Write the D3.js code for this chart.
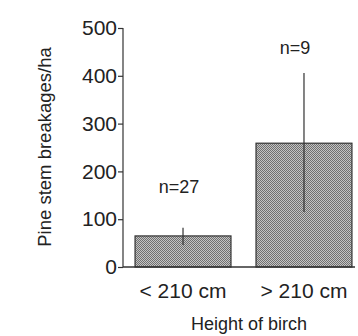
<!DOCTYPE html>
<html><head><meta charset="utf-8">
<script src="https://cdn.jsdelivr.net/npm/d3@7"></script>
<style>body{margin:0;background:#fff}svg{display:block}text{font-family:"Liberation Sans",Arial,sans-serif;fill:#222}</style>
</head><body><svg id="c" width="358" height="336"></svg>
<script>
const categories = ["< 210 cm", "> 210 cm"];
const means = [65, 259];
const errLow = [46, 115];
const errHigh = [82, 406];
const nLabels = ["n=27", "n=9"];
const nLabelAt = [155, 445];
const yTicks = [0, 100, 200, 300, 400, 500];

const svg = d3.select("#c");
const m = {left: 123, right: 355, top: 28, bottom: 267};
const y = d3.scaleLinear().domain([0, 500]).range([m.bottom, m.top]);
const x = d3.scaleBand().domain(categories).range([129, 358]).paddingInner(0.207).paddingOuter(0.05);

const defs = svg.append("defs");
const pat = defs.append("pattern").attr("id","hatch").attr("width",2).attr("height",2).attr("patternUnits","userSpaceOnUse");
pat.append("rect").attr("width",2).attr("height",2).attr("fill","#c4c4c4");
pat.append("rect").attr("width",1).attr("height",1).attr("fill","#707070");
pat.append("rect").attr("x",1).attr("y",1).attr("width",1).attr("height",1).attr("fill","#707070");

// bars
svg.selectAll("rect.bar").data(categories).enter().append("rect").attr("class","bar")
  .attr("x", d => x(d)).attr("width", x.bandwidth())
  .attr("y", (d,i) => y(means[i])).attr("height", (d,i) => y(0) - y(means[i]))
  .attr("fill","url(#hatch)").attr("stroke","#333").attr("stroke-width",1.2);

// error bars
svg.selectAll("line.err").data(categories).enter().append("line")
  .attr("x1", d => x(d) + x.bandwidth()/2).attr("x2", d => x(d) + x.bandwidth()/2)
  .attr("y1", (d,i) => y(errLow[i])).attr("y2", (d,i) => y(errHigh[i]))
  .attr("stroke","#333").attr("stroke-width",1.2);

// n labels
svg.selectAll("text.n").data(categories).enter().append("text")
  .attr("x", (d,i) => x(d) + x.bandwidth()/2 - (i === 0 ? 4 : 9)).attr("y", (d,i) => y(nLabelAt[i]))
  .attr("text-anchor","middle").attr("font-size",18).text((d,i) => nLabels[i]);

// y axis
const yAxis = d3.axisLeft(y).tickValues(yTicks).tickSize(5).tickPadding(1);
const gy = svg.append("g").attr("transform",`translate(${m.left},0)`).call(yAxis);
gy.select(".domain").attr("stroke","#333").attr("stroke-width",1.2).attr("d",`M0,${m.top}V${m.bottom}`);
gy.selectAll(".tick line").attr("stroke","#333").attr("stroke-width",1.2);
gy.selectAll(".tick text").attr("font-size",21).attr("fill","#222").attr("font-family","Liberation Sans, Arial, sans-serif");

// x baseline
svg.append("line").attr("x1",m.left).attr("x2",m.right).attr("y1",y(0)).attr("y2",y(0)).attr("stroke","#333").attr("stroke-width",1.4);

// x labels
svg.selectAll("text.xl").data(categories).enter().append("text")
  .attr("x", d => x(d) + x.bandwidth()/2).attr("y", 298)
  .attr("text-anchor","middle").attr("font-size",21).text(d => d);

svg.append("text").attr("x",249).attr("y",330).attr("text-anchor","middle").attr("font-size",18).text("Height of birch");
svg.append("text").attr("transform","translate(51,147) rotate(-90)").attr("text-anchor","middle").attr("font-size",18.5).text("Pine stem breakages/ha");
</script></body></html>
